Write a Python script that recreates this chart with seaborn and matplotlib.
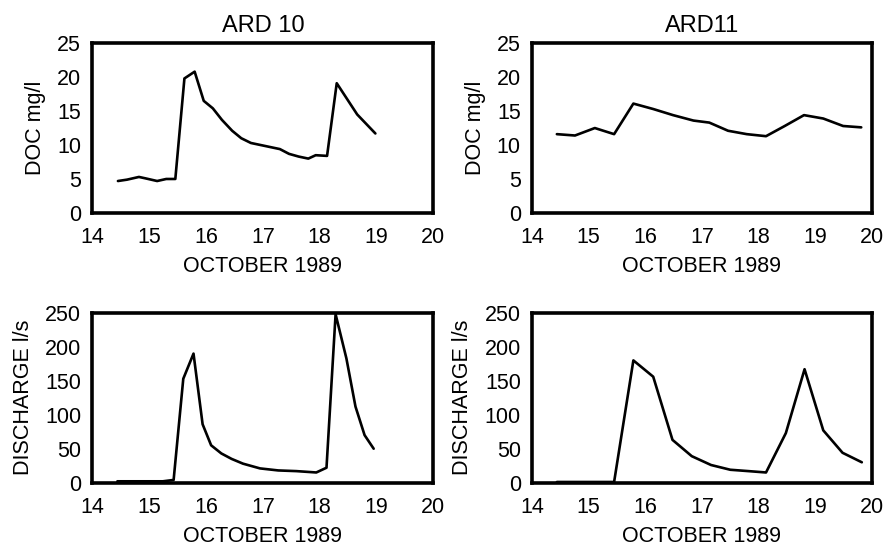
import pandas as pd
import matplotlib
matplotlib.use('Agg')
import matplotlib.pyplot as plt
import seaborn as sns

# DOC at ARD 10 (day of October 1989, mg/l)
ard10_doc_day = [14.45, 14.61, 14.82, 14.93, 15.14, 15.30, 15.46, 15.62, 15.80, 15.96,
                 16.12, 16.28, 16.46, 16.62, 16.79, 16.96, 17.13, 17.30, 17.46, 17.63,
                 17.80, 17.93, 18.13, 18.30, 18.48, 18.66, 18.98]
ard10_doc = [4.7, 4.9, 5.3, 5.1, 4.7, 5.0, 5.0, 19.8, 20.8, 16.5,
             15.4, 13.7, 12.1, 11.0, 10.3, 10.0, 9.7, 9.4, 8.7, 8.3,
             8.0, 8.5, 8.4, 19.1, 16.8, 14.5, 11.7]

# DOC at ARD11
ard11_doc_day = [14.44, 14.76, 15.11, 15.45, 15.79, 16.14, 16.49, 16.85, 17.13, 17.46,
                 17.79, 18.13, 18.46, 18.80, 19.14, 19.49, 19.81]
ard11_doc = [11.6, 11.4, 12.5, 11.6, 16.1, 15.3, 14.4, 13.6, 13.3, 12.1,
             11.6, 11.3, 12.8, 14.4, 13.9, 12.8, 12.6]

# Discharge at ARD 10 (l/s)
ard10_q_day = [14.44, 15.24, 15.43, 15.60, 15.78, 15.94, 16.09, 16.27, 16.45, 16.65,
               16.95, 17.27, 17.59, 17.94, 18.12, 18.28, 18.47, 18.63, 18.79, 18.95]
ard10_q = [2, 2, 4, 153, 190, 86, 55, 43, 35, 28,
           21, 18, 17, 15, 22, 248, 183, 112, 70, 50]

# Discharge at ARD11
ard11_q_day = [14.44, 15.45, 15.79, 16.14, 16.48, 16.82, 17.16, 17.50, 17.82, 18.13,
               18.48, 18.81, 19.14, 19.48, 19.82]
ard11_q = [1, 1, 180, 156, 63, 39, 26, 19, 17, 15,
           73, 167, 77, 44, 30]

sns.set_style('white')
plt.rcParams['font.family'] = ['Liberation Sans', 'DejaVu Sans']
# plain black text like the printed figure
for key in ['text.color', 'axes.labelcolor', 'xtick.color', 'ytick.color']:
    plt.rcParams[key] = 'black'

fig = plt.figure(figsize=(8.88, 5.46), dpi=100)

panels = [
    ([0.104, 0.610, 0.384, 0.311], ard10_doc_day, ard10_doc, 25, 'DOC mg/l', 'ARD 10'),
    ([0.599, 0.610, 0.383, 0.311], ard11_doc_day, ard11_doc, 25, 'DOC mg/l', 'ARD11'),
    ([0.104, 0.116, 0.384, 0.311], ard10_q_day, ard10_q, 250, 'DISCHARGE l/s', None),
    ([0.599, 0.116, 0.383, 0.311], ard11_q_day, ard11_q, 250, 'DISCHARGE l/s', None),
]

for rect, xs, ys, ymax, ylab, title in panels:
    ax = fig.add_axes(rect)
    df = pd.DataFrame({'day': xs, 'value': ys})
    sns.lineplot(data=df, x='day', y='value', ax=ax, color='black', linewidth=1.9)
    ax.set_xlim(14, 20)
    ax.set_ylim(0, ymax)
    ax.set_xticks(range(14, 21))
    ax.set_yticks(range(0, ymax + 1, ymax // 5))
    ax.tick_params(length=0, labelsize=15.5)
    ax.tick_params(axis='x', pad=10)
    ax.tick_params(axis='y', pad=8)
    for s in ax.spines.values():
        s.set_linewidth(2.6)
        s.set_color('black')
    ax.set_xlabel('OCTOBER 1989', fontsize=15.5, labelpad=6)
    ax.set_ylabel(ylab, fontsize=15.5, labelpad=8)
    if title:
        ax.set_title(title, fontsize=17, pad=8)

fig.savefig('out.png', dpi=100)
